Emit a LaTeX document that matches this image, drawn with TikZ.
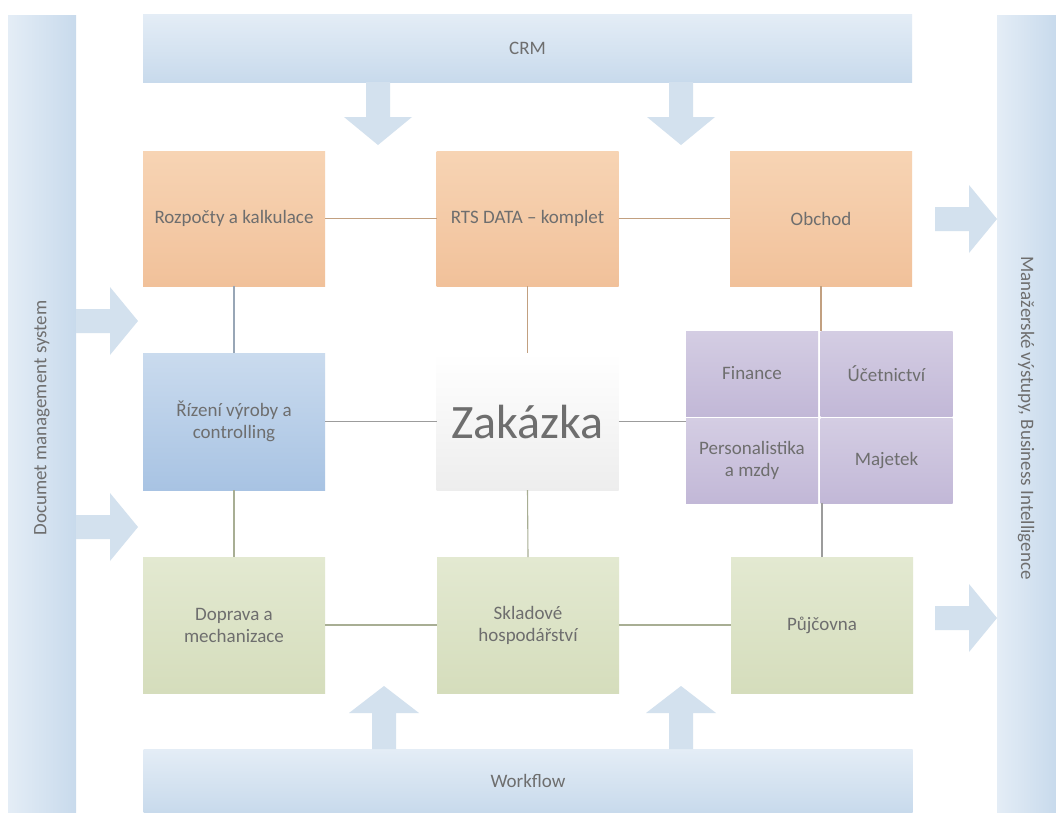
\documentclass[tikz,border=0pt]{standalone}
\usepackage{fontspec}
\setmainfont{Carlito}
\definecolor{orTop}{HTML}{F7D4B4}
\definecolor{orBot}{HTML}{F1C19A}
\definecolor{blTop}{HTML}{CADBEE}
\definecolor{blBot}{HTML}{A8C3E3}
\definecolor{grTop}{HTML}{E3E9D1}
\definecolor{grBot}{HTML}{D5DDBC}
\definecolor{puTop}{HTML}{D4CDE3}
\definecolor{puBot}{HTML}{C2B8D7}
\definecolor{barL}{HTML}{E4EDF6}
\definecolor{barD}{HTML}{C8DAEC}
\definecolor{arr}{HTML}{D3E1EE}
\definecolor{txt}{HTML}{6E6E6E}
\definecolor{lnOr}{HTML}{C2A080}
\definecolor{lnGr}{HTML}{9C9C9C}
\definecolor{lnGn}{HTML}{A8AE94}
\definecolor{lnBl}{HTML}{98A6B6}
\begin{document}
\begin{tikzpicture}[x=1pt,y=-1pt,
  every node/.style={inner sep=0pt, outer sep=0pt, text=txt, align=center,
    font=\fontsize{19}{22}\selectfont},
  box/.style={minimum width=182pt, minimum height=135pt},
  orbox/.style={box, top color=orTop, bottom color=orBot},
  blbox/.style={box, top color=blTop, bottom color=blBot, minimum height=137pt},
  gnbox/.style={box, top color=grTop, bottom color=grBot, minimum height=136pt},
  pubox/.style={minimum width=132pt, minimum height=85pt, top color=puTop, bottom color=puBot},
  vbar/.style={minimum width=68pt, minimum height=797pt, left color=barL, right color=barD},
  hbar/.style={minimum width=769pt, minimum height=68pt, top color=barL, bottom color=barD},
  link/.style={line width=1.1pt},
  darr/.pic={\fill[arr] (-12,-63) -- (12,-63) -- (12,-28) -- (34,-28) -- (0,0) -- (-34,-28) -- (-12,-28) -- cycle;},
  uarr/.pic={\fill[arr] (-12,63) -- (12,63) -- (12,27) -- (35,27) -- (0,0) -- (-35,27) -- (-12,27) -- cycle;},
  rarr/.pic={\fill[arr] (-62,-12) -- (-28,-12) -- (-28,-34) -- (0,0) -- (-28,34) -- (-28,12) -- (-62,12) -- cycle;}
]
\useasboundingbox (0,0) rectangle (1056,812);
\fill[white] (0,0) rectangle (1056,812);

% bars
\node[vbar] (dms) at (42,413.5) {};
\node[rotate=90] (dmst) at (42,418) {Documet management system};
\node[vbar, minimum width=59pt] (mis) at (1026.5,413.5) {};
\node[rotate=-90] (mist) at (1026,418) {Manažerské výstupy, Business Intelligence};
\node[hbar] (crm) at (527.5,48) {CRM};
\node[hbar, minimum height=63pt] (wf) at (528,780.5) {Workflow};

% arrows
\pic at (378,145) {darr};
\pic at (681,145) {darr};
\pic at (384,686) {uarr};
\pic at (681,686) {uarr};
\pic at (138,321) {rarr};
\pic at (138,527) {rarr};
\pic at (997,219) {rarr};
\pic at (997,618) {rarr};

% boxes
\node[orbox] (roz) at (234,218.5) {Rozpočty a kalkulace};
\node[orbox] (rts) at (527.5,218.5) {RTS DATA – komplet};
\node[orbox] (obc) at (821,218.5) {Obchod};
\node[blbox] (riz) at (234,421.5) {Řízení výroby a\\controlling};
\node[box, minimum height=137pt, top color=white, bottom color=black!7] (zak) at (527.5,421.5) {\fontsize{48}{52}\selectfont Zakázka};
\node[gnbox] (dop) at (234,625) {Doprava a\\mechanizace};
\node[gnbox] (skl) at (528,625) {Skladové\\hospodářství};
\node[gnbox] (puj) at (822,625) {Půjčovna};

% purple block
\node[minimum width=267pt, minimum height=172pt] (mod) at (819.5,417) {};
\node[pubox] (fin) at (752,373.5) {Finance};
\node[pubox] (uce) at (886.5,373.5) {Účetnictví};
\node[pubox] (per) at (752,460.5) {Personalistika\\a mzdy};
\node[pubox] (maj) at (886.5,460.5) {Majetek};

% connectors
\draw[link, lnOr] (roz.east) -- (rts.west);
\draw[link, lnOr] (rts.east) -- (obc.west);
\draw[link, lnOr] (rts.south) -- (zak.north);
\draw[link, lnOr] (obc.south) -- (obc.south |- mod.north);
\draw[link, lnBl] (roz.south) -- (riz.north);
\draw[link, lnGn] (riz.south) -- (dop.north);
\draw[link, lnGr] (riz.east) -- (zak.west);
\draw[link, lnGr] (zak.east) -- (zak.east -| mod.west);
\draw[link, lnGn] (zak.south) -- (skl.north);
\draw[link, lnGr] (puj.north) -- (puj.north |- mod.south);
\draw[link, lnGn] (dop.east) -- (skl.west);
\draw[link, lnGn] (skl.east) -- (puj.west);
\end{tikzpicture}
\end{document}
